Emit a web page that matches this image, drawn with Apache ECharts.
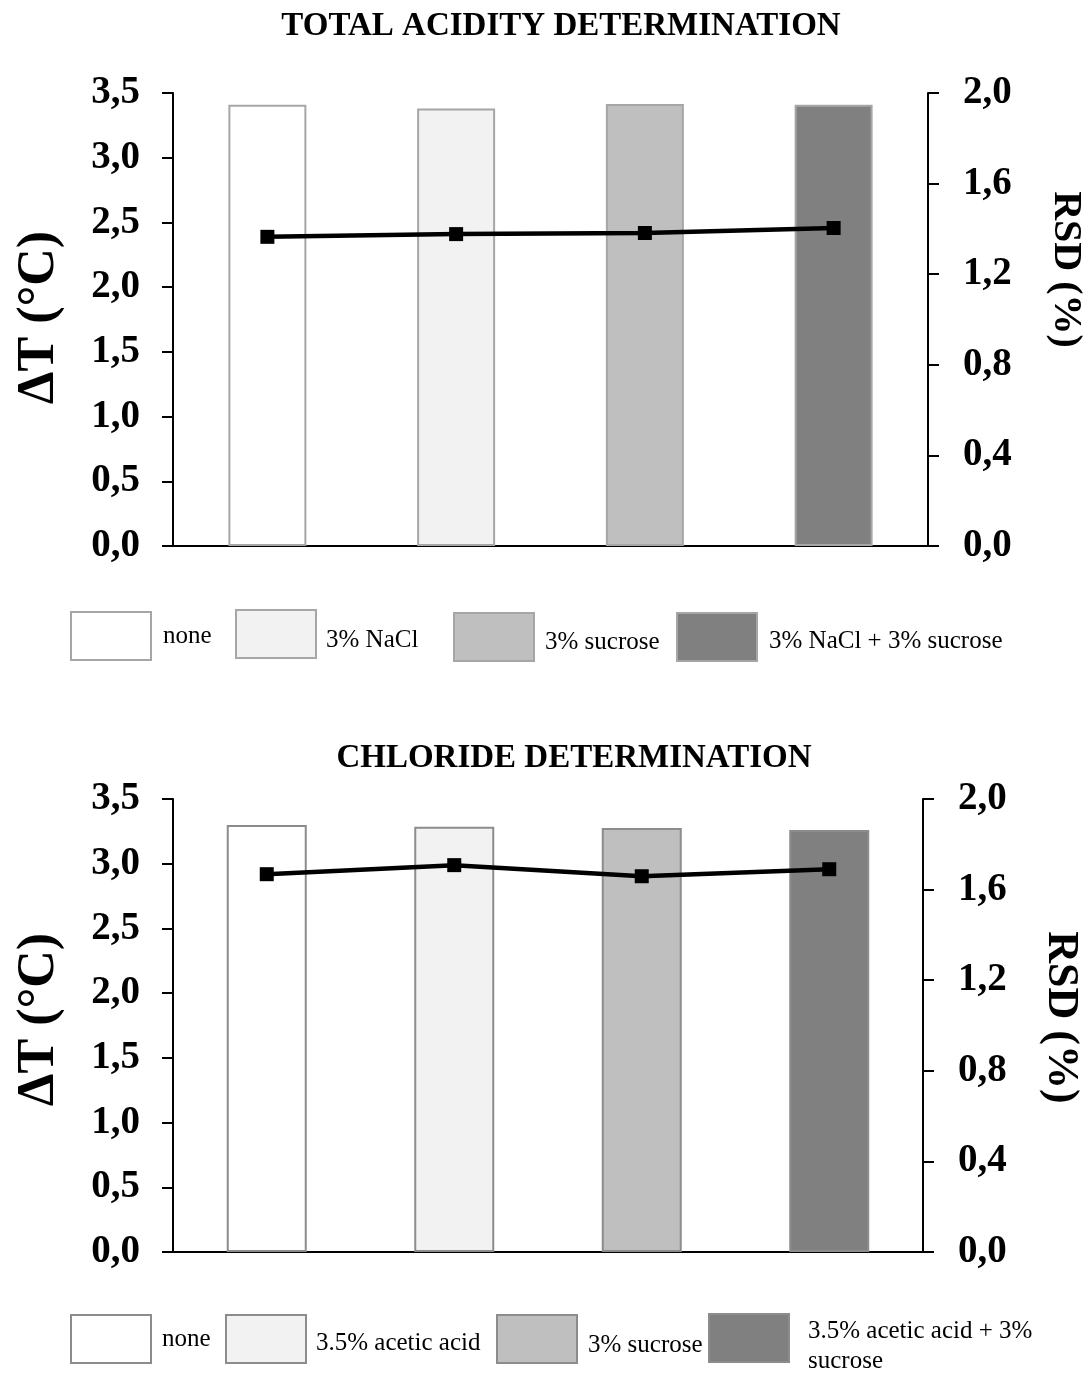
<!DOCTYPE html>
<html><head><meta charset="utf-8">
<script src="https://cdn.jsdelivr.net/npm/echarts@6/dist/echarts.min.js"></script>
<style>html,body{margin:0;padding:0;background:#fff;}#c1{position:absolute;left:0;top:0;width:1092px;height:700px;}#c2{position:absolute;left:0;top:700px;width:1092px;height:673px;}</style>
</head><body>
<div id="c1"></div><div id="c2"></div>
<script>
const categories1 = ['none', '3% NaCl', '3% sucrose', '3% NaCl + 3% sucrose'];
const deltaT1 = [3.41, 3.38, 3.415, 3.41];
const rsd1 = [1.365, 1.377, 1.382, 1.404];

const categories2 = ['none', '3.5% acetic acid', '3% sucrose', '3.5% acetic acid + 3% sucrose'];
const deltaT2 = [3.30, 3.285, 3.275, 3.26];
const rsd2 = [1.668, 1.708, 1.659, 1.690];

const leftTicks = [0, 0.5, 1.0, 1.5, 2.0, 2.5, 3.0, 3.5];
const rightTicks = [0, 0.4, 0.8, 1.2, 1.6, 2.0];

const FONT = "'Liberation Serif','Times New Roman',serif";
const barColors = ['#ffffff', '#f2f2f2', '#bfbfbf', '#808080'];

function makeOption(cfg) {
  const fmt = v => v.toFixed(1).replace('.', ',');
  const series = cfg.categories.map((c, i) => ({
    name: c, type: 'bar', barGap: '-100%', barWidth: cfg.barWidth,
    data: cfg.categories.map((_, j) => j === i ? cfg.deltaT[j] : '-'),
    itemStyle: { color: barColors[i], borderColor: cfg.border, borderWidth: 2 },
    z: 2
  }));
  series.push({
    name: 'RSD', type: 'line', yAxisIndex: 1, data: cfg.rsd,
    symbol: 'rect', symbolSize: 14,
    lineStyle: { color: '#000', width: 4.5 },
    itemStyle: { color: '#000' }, z: 5
  });
  const legends = cfg.categories.map((c, i) => {
    const s = cfg.legendShift[i];
    const lines = (cfg.legendLines && cfg.legendLines[c]) || [c];
    return {
      data: [{ name: c, icon: 'rect', itemStyle: { color: barColors[i], borderColor: cfg.border, borderWidth: 2 } }],
      left: cfg.legendPos[i][0], top: cfg.legendPos[i][1], padding: 0,
      itemWidth: 80, itemHeight: 48, selectedMode: false,
      formatter: () => (s > 0 ? '{s| }\n' : '') + lines.map(l => '{t|' + l + '}').join('\n'),
      textStyle: {
        fontFamily: FONT, fontSize: 25, color: '#000', padding: [0, 0, 0, cfg.legendTextDx[i]], lineHeight: 30,
        rich: {
          s: { fontSize: 1, lineHeight: Math.max(1, 2 * s) },
          t: { fontFamily: FONT, fontSize: 25, lineHeight: 30, color: '#000' }
        }
      }
    };
  });
  const axisBase = {
    axisLine: { show: true, lineStyle: { color: '#000', width: 2 } },
    axisTick: { show: true, length: 11, lineStyle: { color: '#000', width: 2 } },
    splitLine: { show: false },
    nameLocation: 'middle',
    nameMoveOverlap: false,
    nameTextStyle: { fontFamily: FONT, fontWeight: 'bold', color: '#000' }
  };
  return {
    animation: false,
    backgroundColor: '#fff',
    title: {
      text: cfg.title, left: cfg.titleX, top: cfg.titleY, textAlign: 'center',
      textStyle: { fontFamily: FONT, fontSize: 33, fontWeight: 'bold', color: '#000' }
    },
    legend: legends,
    grid: { left: 173, width: cfg.gridW, top: cfg.gridTop, height: 453, containLabel: false, outerBoundsMode: 'none' },
    xAxis: {
      type: 'category', data: cfg.categories, boundaryGap: true,
      axisLine: { lineStyle: { color: '#000', width: 2 } },
      axisTick: { length: 11, lineStyle: { color: '#000', width: 2 } },
      axisLabel: { show: false }
    },
    yAxis: [
      Object.assign({}, axisBase, {
        type: 'value', min: 0, max: 3.5, interval: 0.5, position: 'left',
        name: 'ΔT (°C)', nameGap: cfg.leftNameGap, nameRotate: 90,
        nameTextStyle: Object.assign({}, axisBase.nameTextStyle, { fontSize: cfg.leftNameSize, padding: cfg.leftNamePad }),
        axisLabel: { margin: 33, fontFamily: FONT, fontSize: 39, fontWeight: 'bold', color: '#000', formatter: fmt }
      }),
      Object.assign({}, axisBase, {
        type: 'value', min: 0, max: 2.0, interval: 0.4, position: 'right',
        name: 'RSD (%)', nameGap: cfg.rightNameGap, nameRotate: -90,
        nameTextStyle: Object.assign({}, axisBase.nameTextStyle, { fontSize: cfg.rightNameSize, padding: cfg.rightNamePad }),
        axisLabel: { margin: 35, fontFamily: FONT, fontSize: 39, fontWeight: 'bold', color: '#000', formatter: fmt }
      })
    ],
    series: series
  };
}

const chart1 = echarts.init(document.getElementById('c1'));
chart1.setOption(makeOption({
  title: 'TOTAL ACIDITY DETERMINATION', titleX: 556, titleY: 5,
  categories: categories1, deltaT: deltaT1, rsd: rsd1,
  barWidth: 78, border: '#a6a6a6', gridW: 755, gridTop: 93,
  legendPos: [[70, 611], [235, 609], [453, 612], [676, 612]],
  legendTextDx: [7, 5, 6, 7], legendShift: [0, 6, 5, 4],
  leftNameSize: 52, leftNameGap: 107, leftNamePad: [0, 0, 0, 4],
  rightNameSize: 40, rightNameGap: 117, rightNamePad: [0, 100, 0, 0]
}));

const chart2 = echarts.init(document.getElementById('c2'));
chart2.setOption(makeOption({
  title: 'CHLORIDE DETERMINATION', titleX: 569, titleY: 37,
  categories: categories2, deltaT: deltaT2, rsd: rsd2,
  barWidth: 80, border: '#8c8c8c', gridW: 750, gridTop: 99,
  legendPos: [[70, 614], [225, 614], [496, 614], [708, 600]],
  legendTextDx: [6, 5, 6, 14], legendShift: [0, 4, 6, 8],
  legendLines: { '3.5% acetic acid + 3% sucrose': ['3.5% acetic acid + 3%', 'sucrose'] },
  leftNameSize: 52, leftNameGap: 107, leftNamePad: [0, 0, 0, 12],
  rightNameSize: 44, rightNameGap: 115, rightNamePad: [0, 16, 0, 0]
}));
</script>
</body></html>
